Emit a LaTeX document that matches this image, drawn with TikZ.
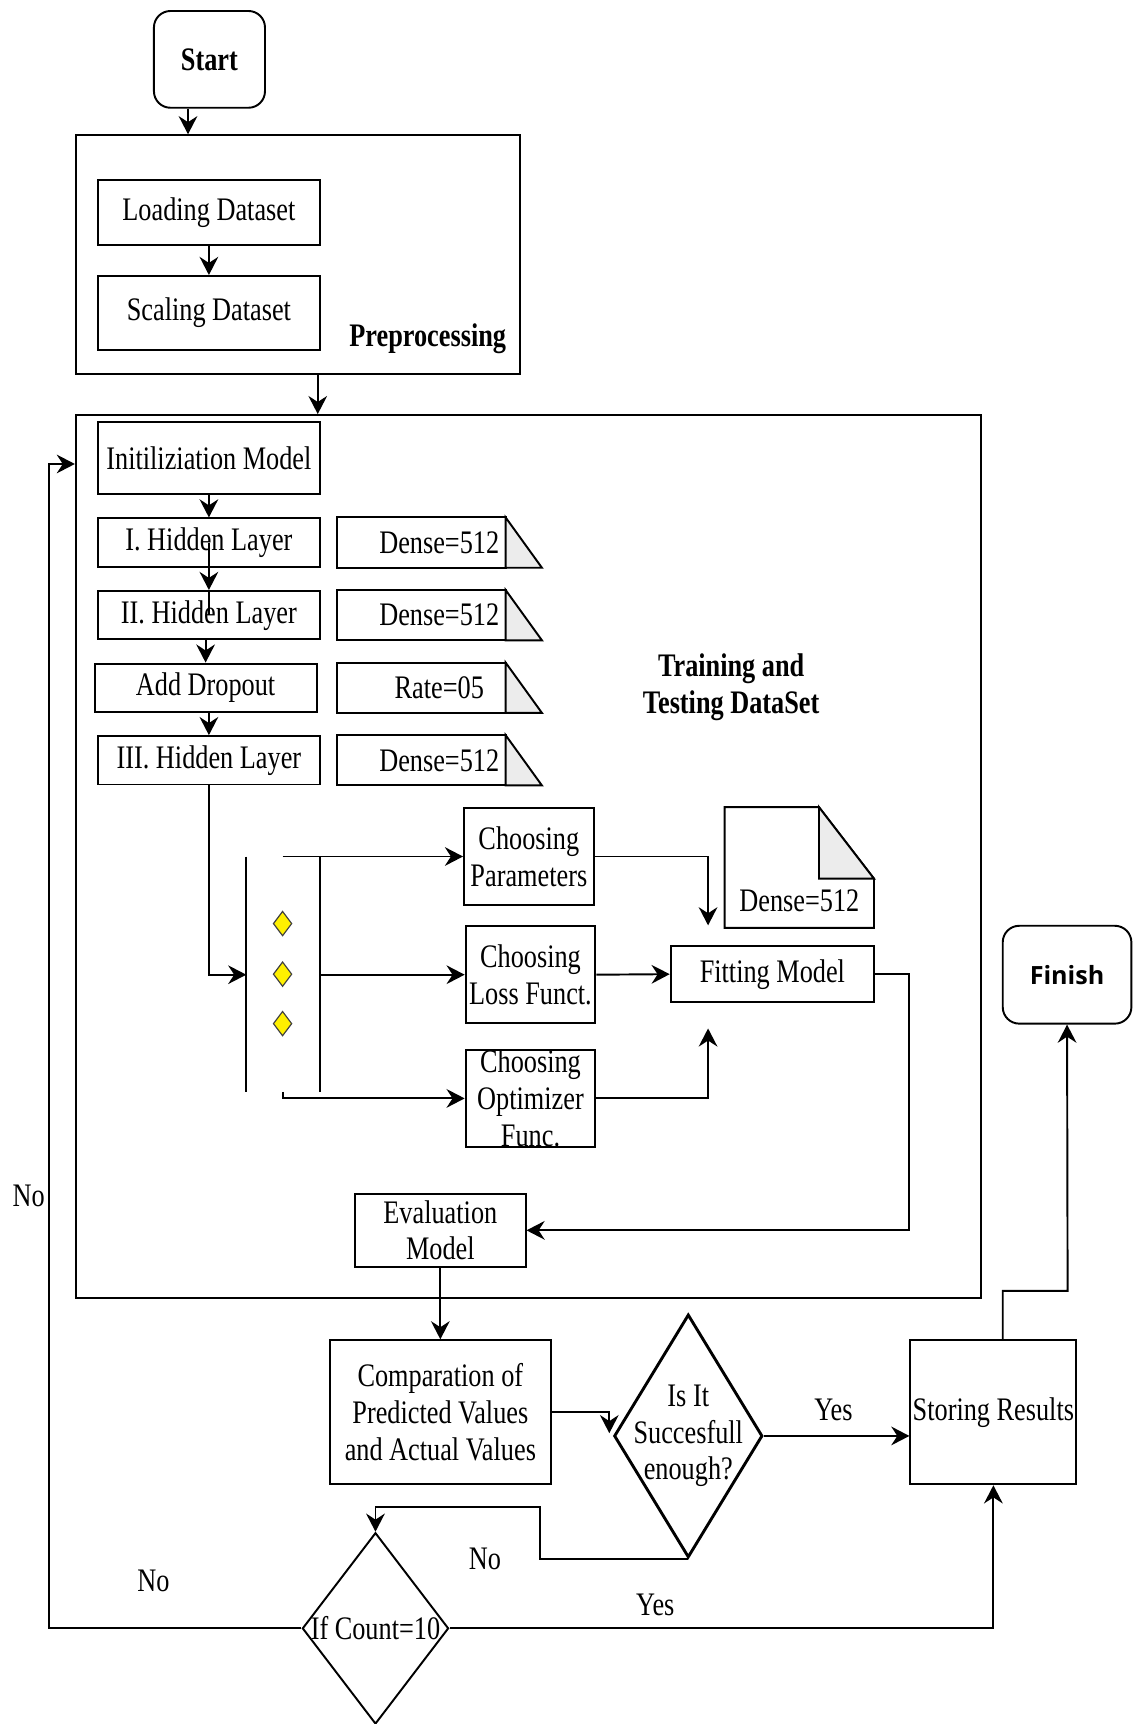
\documentclass[tikz,border=0pt]{standalone}
\usepackage{fontspec}
\setmainfont{Liberation Serif}[FakeStretch=0.8]
\newfontfamily\finishfont{Open Sans}
\usetikzlibrary{shapes.geometric,arrows.meta,positioning}
\definecolor{foldgray}{RGB}{236,236,236}
\definecolor{gemyellow}{RGB}{255,240,0}

\begin{document}
\begin{tikzpicture}[x=0.2mm,y=-0.2mm,% one unit = one pixel of the sketch, y runs down
        font=\fontsize{17}{19}\selectfont,
        line width=1pt,
        arr/.style={-{Stealth[length=3.3mm,width=3.4mm,inset=1.1mm]}},
        box/.style={draw,rectangle,inner sep=0pt,align=center},
        layer/.style={box,minimum width=40.4mm,minimum height=8.8mm},
        pick/.style={box,minimum width=23.6mm,minimum height=17.6mm},
        term/.style={box,rounded corners=3mm},
        card/.style={minimum width=37mm,minimum height=8.8mm,inner sep=0pt},
        gem/.style={diamond,draw=black!75,fill=gemyellow,line width=0.6pt,minimum width=3.4mm,minimum height=4.5mm,inner sep=0pt},
        decision/.style={diamond,draw,inner sep=0pt},
        heavy/.style={font=\fontsize{17}{19}\selectfont\bfseries,align=center}]
\useasboundingbox (0,0) rectangle (1030,1568);

% frames
\node[box,minimum width=80.8mm,minimum height=43.4mm] (pre) at (271,231.5) {};
\node[box,minimum width=164.6mm,minimum height=160.6mm] (train) at (480.5,779) {};

\node[term,heavy,minimum width=20.2mm,minimum height=17.6mm] (start) at (190.5,54) {Start};
\node[layer,minimum height=11.8mm] (load) at (190,193.5) {Loading Dataset};
\node[layer,minimum height=13.4mm] (scale) at (190,284.5) {Scaling Dataset};
\node[heavy] (prelabel) at (389,308) {Preprocessing};

\node[layer,minimum height=13mm] (init) at (190,416.5) {Initiliziation Model};
\node[layer] (h1) at (190,493.5) {I. Hidden Layer};
\node[layer] (h2) at (190,559.5) {II. Hidden Layer};
\node[layer] (drop) at (187,625.5) {Add Dropout};
\node[layer] (h3) at (190,691.5) {III. Hidden Layer};
\node[heavy] (trainlabel) at (665,625) {Training and\\Testing DataSet};

\foreach[count=\xi] \t/\row in {Dense=512/h1,Dense=512/h2,Rate=05/drop,Dense=512/h3}{ %\t is the text, \row the layer beside it
\node[card] (card-\xi) at (399.5,0 |- \row) {\t};
\draw (card-\xi.north west) rectangle ([xshift=-6.6mm]card-\xi.south east);
\draw[fill=foldgray] ([xshift=-6.6mm]card-\xi.north east) -- (card-\xi.south east) -- ([xshift=-6.6mm]card-\xi.south east) -- cycle;
 }

% the branch with its two bars
\coordinate (b1t) at (224,779); \coordinate (b1b) at (224,993);
\coordinate (b2t) at (291,779); \coordinate (b2b) at (291,993);
\coordinate (brt) at (257,779); \coordinate (brb) at (257,993);
\draw (b1t) -- (b1b);
\draw (b2t) -- (b2b);
\foreach[count=\xi] \y in {840,886,931}{
\node[gem] (gem-\xi) at (257,\y) {};
 }

\node[pick] (par) at (481,779) {Choosing\\Parameters};
\node[pick] (loss) at (482.5,886.5) {Choosing\\Loss Funct.};
\node[pick] (opt) at (482.5,999) {};
\node[align=center] (opttext) at (opt) {Choosing\\Optimizer\\Func.}; %text runs over the box as in the sketch

\node[box,minimum width=37mm,minimum height=10.2mm] (fit) at (702.5,886) {Fitting Model};
\node[minimum width=26.8mm,minimum height=21.6mm,inner sep=0pt] (note) at (727,789) {};
\draw (note.north west) -- ([xshift=-10mm]note.north east) -- ([yshift=-13mm]note.north east) -- (note.south east) -- (note.south west) -- cycle;
\draw[fill=foldgray] ([xshift=-10mm]note.north east) -- ([xshift=-10mm,yshift=-13mm]note.north east) -- ([yshift=-13mm]note.north east) -- cycle;
\node (notetext) at ([yshift=-6mm]note.center) {Dense=512};

\node[box,minimum width=31mm,minimum height=13.2mm] (eval) at (400.5,1119) {Evaluation\\Model};
\node[box,minimum width=40.2mm,minimum height=26.2mm] (comp) at (400.5,1284.5) {Comparation of\\Predicted Values\\and Actual Values};
\node[decision,line width=1.5pt,minimum width=27mm,minimum height=44.2mm] (succ) at (626,1306) {};
\node[align=center] (succtext) at (succ) {Is It\\Succesfull\\enough?};
\node[box,minimum width=30.2mm,minimum height=26.2mm] (store) at (903.5,1284.5) {Storing Results};
\node[term,minimum width=23.4mm,minimum height=17.8mm,font=\finishfont\fontsize{13}{15}\selectfont\bfseries] (finish) at (970.5,886.5) {Finish};
\node[decision,minimum width=26.6mm,minimum height=34.8mm] (count) at (341.5,1481) {};
\node (counttext) at (count) {If Count=10};

% answers
\node (no1) at (26,1088) {No};
\node (no2) at (139.5,1438) {No};
\node (no3) at (441,1418) {No};
\node (yes1) at (758,1282) {Yes};
\node (yes2) at (596,1460) {Yes};

% connectors
\draw[arr] (171,0 |- start.south) -- (171,0 |- pre.north);
\draw[arr] (load) -- (scale);
\draw[arr] (289,0 |- pre.south) -- (289,0 |- train.north);
\draw[arr] (init) -- (h1);
\draw[arr] (h1.center) -- (h2.north);
\draw (h2.north) -- (h2.center);
\draw[arr] (drop.north |- h2.south) -- (drop.north);
\draw[arr] (h3.north |- drop.south) -- (h3.north);
\draw[arr] (h3.south) |- (b1t |- loss.west);
\draw[arr] (brt) -- (par.west);
\draw[arr] (b2t |- loss.west) -- (loss.west);
\draw[arr] (brb) |- (opt.west);
\draw[arr] (par.east) -| ([xshift=-11.7mm,yshift=3.6mm]fit.north);
\draw[arr] (loss.east) -- (fit.west);
\draw[arr] (opt.east) -| ([xshift=-11.7mm,yshift=-4.6mm]fit.south);
\draw[arr] (fit.east) -| (store.west |- eval.east) -- (eval.east);
\draw[arr] (eval) -- (comp);
\draw[arr] (comp.east) -| ([xshift=-0.6mm,yshift=0.5mm]succ.west);
\draw[arr] (succ.east) -- (store.west |- succ.east);
\coordinate (bendA) at (491,1371);
\draw[arr] (succ.south) -| (bendA) -| (count.north);
\coordinate (loopL) at (44.5,422);
\draw[arr] (count.west) -| (loopL) -- (train.west |- loopL);
\draw[arr] (count.east) -| (store.south);
\coordinate (up) at (971,1174);
\draw[arr] ([xshift=1.7mm]store.north) |- (up) -- (finish.south);

\end{tikzpicture}
\end{document}
